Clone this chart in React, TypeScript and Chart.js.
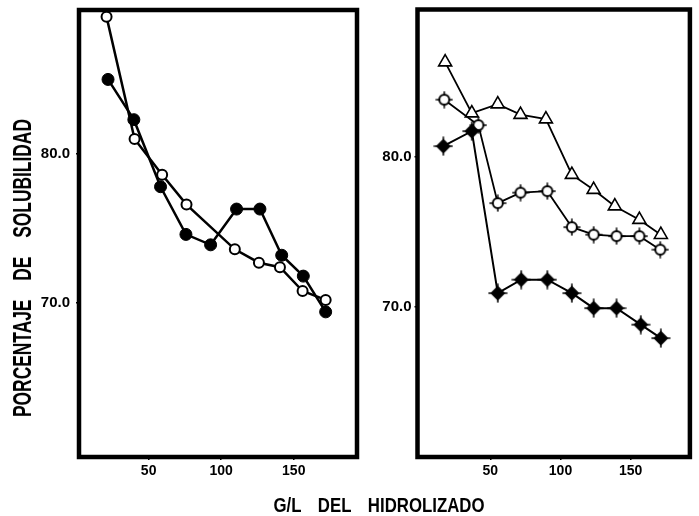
import React, { useEffect, useRef } from "react";
import { Chart, registerables } from "chart.js";
Chart.register(...registerables);

// ---- Data ----
// Left panel
const leftTickValues = [50, 100, 150];
const leftYTicks = [70, 80];
const leftFilledX = [22, 39.8, 58.2, 75.7, 92.7, 110.6, 126.7, 141.7, 156.6, 172];
const leftFilledY = [85.0, 82.3, 77.8, 74.6, 73.9, 76.3, 76.3, 73.2, 71.8, 69.4];
const leftOpenX = [21, 40.3, 59.3, 76.1, 109.4, 126, 140.5, 156.1, 172];
const leftOpenY = [89.2, 81.0, 78.6, 76.6, 73.6, 72.7, 72.4, 70.8, 70.2];

// Right panel
const rightTickValues = [50, 100, 150];
const rightYTicks = [70, 80];
const rightTriX = [17.8, 36.8, 55.3, 71.5, 89.6, 108.1, 123.6, 138.7, 156.2, 171.5];
const rightTriY = [86.3, 82.9, 83.5, 82.8, 82.5, 78.8, 77.8, 76.7, 75.8, 74.8];
const rightCircX = [17.2, 41.5, 55.3, 71.5, 90.6, 108.1, 123.6, 139.9, 156.2, 171.1];
const rightCircY = [83.8, 82.1, 76.9, 77.6, 77.7, 75.3, 74.8, 74.7, 74.7, 73.8];
const rightDiamX = [16.5, 36.8, 55.3, 72, 90.6, 108.1, 123.6, 139.9, 157.2, 171.5];
const rightDiamY = [80.7, 81.7, 70.9, 71.8, 71.8, 70.9, 69.9, 69.9, 68.8, 67.9];

const yAxisTitle = "PORCENTAJE DE SOLUBILIDAD";
const xAxisTitle = "G/L DEL HIDROLIZADO";

const FONT = '"Liberation Sans", Arial, sans-serif';

const zip = (xs: number[], ys: number[]) => xs.map((x, i) => ({ x, y: ys[i] }));

function crossCircle(): HTMLCanvasElement {
  const c = document.createElement("canvas");
  c.width = 18;
  c.height = 18;
  const g = c.getContext("2d")!;
  const m = 9;
  g.strokeStyle = "#000";
  g.lineWidth = 1.5;
  g.beginPath();
  g.moveTo(m, 0.5);
  g.lineTo(m, 17.5);
  g.moveTo(0.5, m);
  g.lineTo(17.5, m);
  g.stroke();
  g.beginPath();
  g.arc(m, m, 5, 0, Math.PI * 2);
  g.fillStyle = "#fff";
  g.fill();
  g.lineWidth = 2;
  g.stroke();
  return c;
}

function crossDiamond(): HTMLCanvasElement {
  const c = document.createElement("canvas");
  c.width = 20;
  c.height = 20;
  const g = c.getContext("2d")!;
  const m = 10;
  g.strokeStyle = "#000";
  g.lineWidth = 1.5;
  g.beginPath();
  g.moveTo(m, 0.5);
  g.lineTo(m, 19.5);
  g.moveTo(0.5, m);
  g.lineTo(19.5, m);
  g.stroke();
  g.beginPath();
  g.moveTo(m, m - 7.5);
  g.lineTo(m + 7.5, m);
  g.lineTo(m, m + 7.5);
  g.lineTo(m - 7.5, m);
  g.closePath();
  g.fillStyle = "#000";
  g.fill();
  return c;
}

const framePlugin = {
  id: "frame",
  beforeDatasetsDraw(chart: any) {
    const { ctx, chartArea: a } = chart;
    ctx.save();
    ctx.strokeStyle = "#000";
    ctx.lineWidth = 4.5;
    ctx.strokeRect(a.left, a.top, a.right - a.left, a.bottom - a.top);
    ctx.restore();
  },
};

function makeChart(
  canvas: HTMLCanvasElement,
  datasets: any[],
  o: {
    xMin: number; xMax: number; yMin: number; yMax: number;
    xTicks: number[]; yTicks: number[];
    yWidth: number; yPad: number; padTop: number; padRight: number;
  }
) {
  return new Chart(canvas, {
    type: "line",
    data: { datasets },
    plugins: [framePlugin],
    options: {
      responsive: false,
      animation: false,
      events: [],
      layout: { padding: { top: o.padTop, right: o.padRight, left: 0, bottom: 0 } },
      plugins: { legend: { display: false }, tooltip: { enabled: false } },
      scales: {
        x: {
          type: "linear",
          min: o.xMin,
          max: o.xMax,
          afterBuildTicks: (s: any) => {
            s.ticks = o.xTicks.map((v) => ({ value: v }));
          },
          afterFit: (s: any) => {
            s.height = 59;
            s.paddingLeft = 0;
            s.paddingRight = 0;
          },
          ticks: {
            color: "#000",
            padding: 3,
            maxRotation: 0,
            font: { family: FONT, size: 14, weight: "bold" },
            callback: (v: any) => String(v),
          },
          grid: { display: true, drawOnChartArea: false, drawTicks: true, tickLength: 3, color: "#000", lineWidth: 1.5 },
          border: { display: false },
        },
        y: {
          type: "linear",
          min: o.yMin,
          max: o.yMax,
          afterBuildTicks: (s: any) => {
            s.ticks = o.yTicks.map((v) => ({ value: v }));
          },
          afterFit: (s: any) => {
            s.width = o.yWidth;
            s.paddingTop = 0;
            s.paddingBottom = 0;
          },
          ticks: {
            color: "#000",
            padding: o.yPad,
            font: { family: FONT, size: 15, weight: "bold" },
            callback: (v: any) => Number(v).toFixed(1),
          },
          grid: { display: true, drawOnChartArea: false, drawTicks: true, tickLength: 3, color: "#000", lineWidth: 1.5 },
          border: { display: false },
        },
      },
    } as any,
  });
}

export default function App() {
  const c1 = useRef<HTMLCanvasElement>(null);
  const c2 = useRef<HTMLCanvasElement>(null);

  useEffect(() => {
    const cc = crossCircle();
    const cd = crossDiamond();
    const ch1 = makeChart(
      c1.current!,
      [
        {
          data: zip(leftOpenX, leftOpenY),
          borderColor: "#000",
          borderWidth: 2.5,
          pointStyle: "circle",
          pointRadius: 5,
          pointBackgroundColor: "#fff",
          pointBorderColor: "#000",
          pointBorderWidth: 2,
          tension: 0,
        },
        {
          data: zip(leftFilledX, leftFilledY),
          borderColor: "#000",
          borderWidth: 2.5,
          pointStyle: "circle",
          pointRadius: 6,
          pointBackgroundColor: "#000",
          pointBorderColor: "#000",
          pointBorderWidth: 1,
          tension: 0,
        },
      ],
      { xMin: 2, xMax: 193.6, yMin: 59.66, yMax: 89.66, xTicks: leftTickValues, yTicks: leftYTicks, yWidth: 79, yPad: 6, padTop: 10, padRight: 8 }
    );
    const ch2 = makeChart(
      c2.current!,
      [
        {
          data: zip(rightDiamX, rightDiamY),
          borderColor: "#000",
          borderWidth: 2,
          pointStyle: cd,
          tension: 0,
        },
        {
          data: zip(rightCircX, rightCircY),
          borderColor: "#000",
          borderWidth: 1.8,
          pointStyle: cc,
          tension: 0,
        },
        {
          data: zip(rightTriX, rightTriY),
          borderColor: "#000",
          borderWidth: 1.8,
          pointStyle: "triangle",
          pointRadius: 7.5,
          pointBackgroundColor: "#fff",
          pointBorderColor: "#000",
          pointBorderWidth: 1.6,
          tension: 0,
        },
      ],
      { xMin: -1.9, xMax: 192.2, yMin: 59.98, yMax: 89.81, xTicks: rightTickValues, yTicks: rightYTicks, yWidth: 52.5, yPad: 3, padTop: 9.5, padRight: 2 }
    );
    return () => {
      ch1.destroy();
      ch2.destroy();
    };
  }, []);

  return (
    <div style={{ position: "absolute", left: 0, top: 0, width: 699, height: 516, background: "#fff", overflow: "hidden" }}>
      <canvas ref={c1} width={365} height={516} style={{ position: "absolute", left: 0, top: 0, width: 365, height: 516 }} />
      <canvas ref={c2} width={334} height={516} style={{ position: "absolute", left: 365, top: 0, width: 334, height: 516 }} />
      <div
        style={{
          position: "absolute",
          left: 22,
          top: 267.5,
          transform: "translate(-50%, -50%) rotate(-90deg) scaleX(0.668)",
          whiteSpace: "nowrap",
          fontFamily: FONT,
          fontWeight: "bold",
          fontSize: 26,
          lineHeight: 1,
          wordSpacing: 21,
          color: "#000",
        }}
      >
        {yAxisTitle}
      </div>
      <div
        style={{
          position: "absolute",
          left: 379,
          top: 503.5,
          transform: "translate(-50%, -50%) scaleX(0.8)",
          whiteSpace: "nowrap",
          fontFamily: FONT,
          fontWeight: "bold",
          fontSize: 21,
          lineHeight: 1,
          wordSpacing: 15,
          color: "#000",
        }}
      >
        {xAxisTitle}
      </div>
    </div>
  );
}
